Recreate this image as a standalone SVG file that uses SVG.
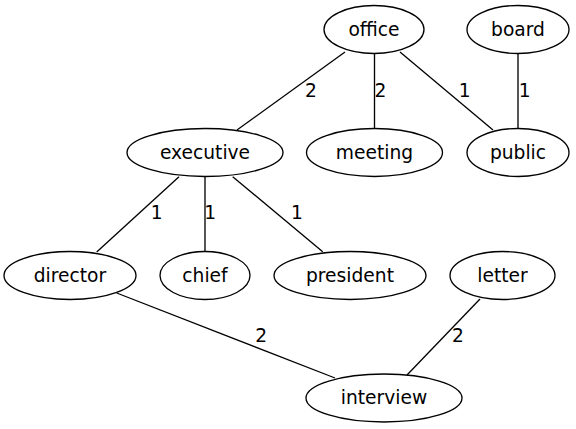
<svg xmlns="http://www.w3.org/2000/svg" width="576" height="429" viewBox="0 0 576 429">
<style>
  .n ellipse { fill: none; stroke: #000; stroke-width: 1.33; }
  .t { font-family: "DejaVu Sans", sans-serif; font-size: 18.67px; text-anchor: middle; fill: #000; }
  #edges line { stroke: #000; stroke-width: 1.33; }
</style>
<rect width="576" height="429" fill="#fff"/>
<g id="edges">
  <line x1="345" y1="52" x2="237" y2="130"/>
  <text class="t" x="311" y="97">2</text>
  <line x1="374.5" y1="53.5" x2="374.5" y2="128.5"/>
  <text class="t" x="380.5" y="97">2</text>
  <line x1="400" y1="52" x2="493" y2="130"/>
  <text class="t" x="464.7" y="97">1</text>
  <line x1="518" y1="53.5" x2="518" y2="128.5"/>
  <text class="t" x="524.7" y="97">1</text>
  <line x1="179" y1="176.7" x2="96.7" y2="252"/>
  <text class="t" x="156.7" y="219.3">1</text>
  <line x1="205" y1="176.5" x2="205" y2="251.5"/>
  <text class="t" x="210.3" y="219.3">1</text>
  <line x1="232.7" y1="176.7" x2="322.7" y2="251.7"/>
  <text class="t" x="297" y="219.3">1</text>
  <line x1="116.7" y1="293" x2="335" y2="378"/>
  <text class="t" x="261.3" y="342.3">2</text>
  <line x1="480" y1="299" x2="407" y2="375"/>
  <text class="t" x="458" y="342.3">2</text>
</g>
<g id="office" class="n"><ellipse cx="374" cy="29.5" rx="50" ry="24"/><text class="t" x="374" y="35.5">office</text></g>
<g id="board" class="n"><ellipse cx="518" cy="29.5" rx="51" ry="24"/><text class="t" x="518" y="35.5">board</text></g>
<g id="executive" class="n"><ellipse cx="205" cy="152.5" rx="78" ry="24"/><text class="t" x="205" y="158.5">executive</text></g>
<g id="meeting" class="n"><ellipse cx="374.5" cy="152.5" rx="68" ry="24"/><text class="t" x="374.5" y="158.5">meeting</text></g>
<g id="public" class="n"><ellipse cx="518" cy="152.5" rx="51" ry="24"/><text class="t" x="518" y="158.5">public</text></g>
<g id="director" class="n"><ellipse cx="70" cy="275.5" rx="66" ry="24"/><text class="t" x="70" y="281.5">director</text></g>
<g id="chief" class="n"><ellipse cx="205" cy="275.5" rx="45" ry="24"/><text class="t" x="205" y="281.5">chief</text></g>
<g id="president" class="n"><ellipse cx="350" cy="275.5" rx="76" ry="24"/><text class="t" x="350" y="281.5">president</text></g>
<g id="letter" class="n"><ellipse cx="502.5" cy="275.5" rx="52.5" ry="24"/><text class="t" x="502.5" y="281.5">letter</text></g>
<g id="interview" class="n"><ellipse cx="384" cy="398" rx="78" ry="24"/><text class="t" x="384" y="404">interview</text></g>
</svg>
